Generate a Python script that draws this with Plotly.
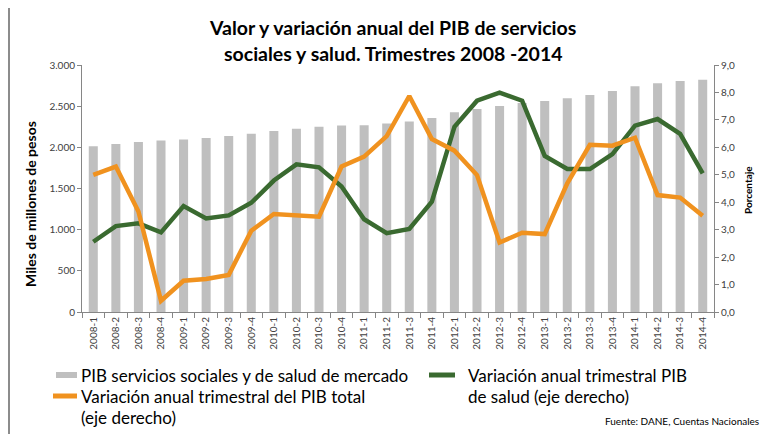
import plotly.graph_objects as go

quarters = ["2008-1","2008-2","2008-3","2008-4","2009-1","2009-2","2009-3","2009-4",
            "2010-1","2010-2","2010-3","2010-4","2011-1","2011-2","2011-3","2011-4",
            "2012-1","2012-2","2012-3","2012-4","2013-1","2013-2","2013-3","2013-4",
            "2014-1","2014-2","2014-3","2014-4"]

pib_salud_mercado = [2013, 2040, 2064, 2084, 2096, 2113, 2137, 2165,
                     2198, 2226, 2250, 2266, 2268, 2290, 2315, 2356,
                     2425, 2466, 2502, 2537, 2563, 2595, 2636, 2685,
                     2741, 2777, 2806, 2822]

var_pib_total = [5.0, 5.3, 3.66, 0.41, 1.14, 1.2, 1.35, 2.96,
                 3.57, 3.54, 3.47, 5.3, 5.66, 6.41, 7.87, 6.3,
                 5.88, 4.99, 2.53, 2.89, 2.84, 4.69, 6.09, 6.06,
                 6.35, 4.26, 4.17, 3.51]

var_pib_salud = [2.56, 3.13, 3.23, 2.9, 3.86, 3.41, 3.52, 3.98,
                 4.79, 5.38, 5.27, 4.57, 3.38, 2.87, 3.03, 4.02,
                 6.75, 7.7, 7.99, 7.7, 5.69, 5.21, 5.21, 5.75,
                 6.79, 7.03, 6.49, 5.05]

y_left_ticks = [0, 500, 1000, 1500, 2000, 2500, 3000]
y_right_ticks = [0, 1, 2, 3, 4, 5, 6, 7, 8, 9]

FONT = "Lato"
GRAY_BAR = "#BFBFBF"
ORANGE = "#F0921F"
GREEN = "#3A6A30"
AXIS = "#868686"
TICKTXT = "#404040"

# page offset (body margin of the html page)
OFF = 8
# plot area in page pixels
L, R, T, B = 82, 714, 65, 312
W, H = R - L, B - T
px = lambda x: (x - L) / W
py = lambda y: (B - y) / H

FIG_W, FIG_H = 784 - OFF, 434 - OFF

fig = go.Figure()
fig.add_trace(go.Bar(x=quarters, y=pib_salud_mercado, marker_color=GRAY_BAR,
                     marker_line_width=0, name="PIB servicios sociales y de salud de mercado",
                     showlegend=False))
fig.add_trace(go.Scatter(x=quarters, y=var_pib_salud, yaxis="y2", mode="lines",
                         line=dict(color=GREEN, width=4.5), showlegend=False,
                         name="Variación anual trimestral PIB de salud (eje derecho)"))
fig.add_trace(go.Scatter(x=quarters, y=var_pib_total, yaxis="y2", mode="lines",
                         line=dict(color=ORANGE, width=4.5), showlegend=False,
                         name="Variación anual trimestral del PIB total (eje derecho)"))

ann = []
ann.append(dict(text="<b>Valor y variación anual del PIB de servicios</b>", x=px(392), y=py(27),
                xref="paper", yref="paper", showarrow=False, xanchor="center", yanchor="middle",
                font=dict(family=FONT, size=19.5, color="#000")))
ann.append(dict(text="<b>sociales y salud. Trimestres 2008 -2014</b>", x=px(393), y=py(53),
                xref="paper", yref="paper", showarrow=False, xanchor="center", yanchor="middle",
                font=dict(family=FONT, size=19.5, color="#000")))
ann.append(dict(text="<b>Miles de millones de pesos</b>", x=px(30), y=py(204), textangle=-90,
                xref="paper", yref="paper", showarrow=False, xanchor="center", yanchor="middle",
                font=dict(family=FONT, size=14, color="#000")))
ann.append(dict(text="<b>Porcentaje</b>", x=px(748), y=py(190), textangle=-90,
                xref="paper", yref="paper", showarrow=False, xanchor="center", yanchor="middle",
                font=dict(family=FONT, size=10, color="#000")))
legfont = dict(family=FONT, size=17, color="#000")
ann.append(dict(text="PIB servicios sociales y de salud de mercado", x=px(79), y=py(375),
                xref="paper", yref="paper", showarrow=False, xanchor="left", yanchor="middle", font=legfont))
ann.append(dict(text="Variación anual trimestral PIB", x=px(466), y=py(375),
                xref="paper", yref="paper", showarrow=False, xanchor="left", yanchor="middle", font=legfont))
ann.append(dict(text="de salud (eje derecho)", x=px(466), y=py(396),
                xref="paper", yref="paper", showarrow=False, xanchor="left", yanchor="middle", font=legfont))
ann.append(dict(text="Variación anual trimestral del PIB total", x=px(79), y=py(396),
                xref="paper", yref="paper", showarrow=False, xanchor="left", yanchor="middle", font=legfont))
ann.append(dict(text="(eje derecho)", x=px(79), y=py(417),
                xref="paper", yref="paper", showarrow=False, xanchor="left", yanchor="middle", font=legfont))
ann.append(dict(text="Fuente: DANE, Cuentas Nacionales", x=px(761), y=py(421),
                xref="paper", yref="paper", showarrow=False, xanchor="right", yanchor="middle",
                font=dict(family=FONT, size=10, color="#000")))

shapes = [
    dict(type="rect", xref="paper", yref="paper", x0=px(9), x1=px(780), y0=py(445), y1=py(7),
         line=dict(color="#8C8C8C", width=2), fillcolor="rgba(0,0,0,0)", layer="below"),
    dict(type="line", xref="paper", yref="paper", x0=px(56), x1=px(77), y0=py(375), y1=py(375),
         line=dict(color=GRAY_BAR, width=6)),
    dict(type="line", xref="paper", yref="paper", x0=px(429), x1=px(455), y0=py(375), y1=py(375),
         line=dict(color=GREEN, width=5)),
    dict(type="line", xref="paper", yref="paper", x0=px(53), x1=px(77), y0=py(396), y1=py(396),
         line=dict(color=ORANGE, width=5)),
]

fig.update_layout(
    width=FIG_W, height=FIG_H,
    margin=dict(l=L - OFF, r=FIG_W - (R - OFF), t=T - OFF, b=FIG_H - (B - OFF), autoexpand=False),
    paper_bgcolor="white", plot_bgcolor="white",
    separators=",.",
    bargap=0.6,
    showlegend=False,
    annotations=ann, shapes=shapes,
    xaxis=dict(type="category", tickson="boundaries", ticks="outside", ticklen=5,
               tickcolor=AXIS, showline=True, linecolor=AXIS, linewidth=1,
               tickangle=-90, tickfont=dict(family=FONT, size=10, color=TICKTXT),
               showgrid=False, zeroline=False),
    yaxis=dict(range=[0, 3000], tickvals=y_left_ticks, tickformat=",d", ticks="outside",
               ticklen=4, tickcolor=AXIS, showline=True, linecolor=AXIS, linewidth=1,
               tickfont=dict(family=FONT, size=10, color=TICKTXT), showgrid=False, zeroline=False),
    yaxis2=dict(range=[0, 9], tickvals=y_right_ticks, tickformat=".1f", overlaying="y", side="right",
                ticks="outside", ticklen=4, tickcolor=AXIS, showline=True, linecolor=AXIS,
                linewidth=1, tickfont=dict(family=FONT, size=10, color=TICKTXT),
                showgrid=False, zeroline=False),
)

fig.write_html("out.html")
